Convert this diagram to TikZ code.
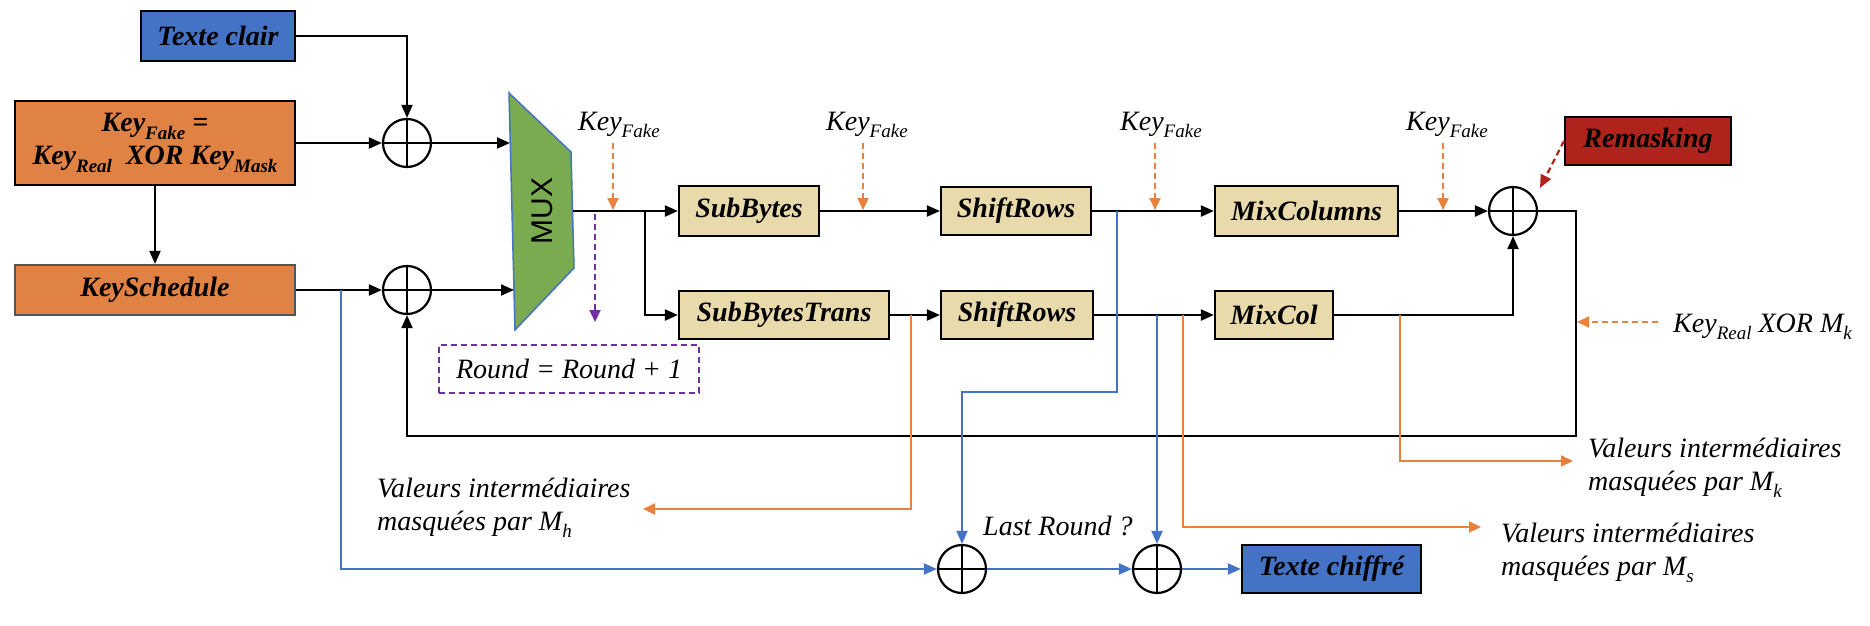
\documentclass[tikz,border=0pt]{standalone}
\usepackage{fontspec}
\setmainfont{Liberation Serif}
\newfontfamily\arialf{Liberation Sans}
\usetikzlibrary{arrows.meta}
\definecolor{boxblue}{HTML}{4472C4}
\definecolor{korange}{HTML}{DF8244}
\definecolor{tanc}{HTML}{E9DAAB}
\definecolor{muxgreen}{HTML}{7AAB50}
\definecolor{rred}{HTML}{AF231C}
\definecolor{lorange}{HTML}{E8803E}
\definecolor{lpurple}{HTML}{7030A0}
\definecolor{ksborder}{HTML}{555555}
\newcommand{\lsub}[1]{\raisebox{-0.28em}{\fontsize{19}{19}\selectfont #1}}
\begin{document}
\begin{tikzpicture}[x=1pt,y=-1pt,
  box/.style={draw, line width=2.2pt, inner sep=0pt, font=\fontsize{28}{33}\selectfont\bfseries\itshape},
  tanbox/.style={box, fill=tanc},
  xorc/.style={circle, draw, line width=2.2pt, minimum size=48pt, inner sep=0pt,
    path picture={\draw[line width=2pt] (path picture bounding box.north) -- (path picture bounding box.south)
      (path picture bounding box.west) -- (path picture bounding box.east);}},
  conn/.style={line width=2pt, -{Triangle[length=13pt,width=11pt]}},
  bconn/.style={line width=2pt, draw=boxblue, -{Triangle[length=13pt,width=11pt]}, color=boxblue},
  oconn/.style={line width=2pt, draw=lorange, -{Triangle[length=12pt,width=11pt]}, color=lorange},
  odash/.style={line width=2pt, draw=lorange, dash pattern=on 6pt off 4pt, -{Triangle[length=12pt,width=11pt]}, color=lorange},
  lab/.style={inner sep=0pt, font=\fontsize{28}{33}\selectfont\itshape},
]
\useasboundingbox (0,0) rectangle (1870,626);

% boxes
\node[box, fill=boxblue, minimum width=154pt, minimum height=50pt] (tc) at (218,36) {Texte clair};
\node[box, fill=korange, minimum width=280pt, minimum height=84pt, align=center] (kf) at (155,143)
  {Key\lsub{Fake} =\\Key\lsub{Real}\ \ XOR Key\lsub{Mask}};
\node[box, draw=ksborder, fill=korange, minimum width=280pt, minimum height=50pt] (ks) at (155,290) {KeySchedule};

\node[xorc] (x1) at (407,143) {};
\node[xorc] (x2) at (407,290) {};
\node[xorc] (x4) at (1513,211) {};
\node[xorc] (x3) at (962,569) {};
\node[xorc] (x5) at (1157,569) {};

% MUX
\draw[fill=muxgreen, draw=boxblue, line width=1.5pt] (509,93) -- (571,152) -- (574,268) -- (515,330) -- cycle;
\node[rotate=90, inner sep=0pt, font=\arialf\fontsize{30}{30}\selectfont] (mux) at (542,211) {MUX};
\coordinate (muxin1) at (510,143);
\coordinate (muxin2) at (514,290);
\coordinate (muxout) at (573,211);

\node[tanbox, minimum width=140pt, minimum height=50pt] (sb) at (749,211) {SubBytes};
\node[tanbox, minimum width=210pt, minimum height=48pt] (sbt) at (784,315) {SubBytesTrans};
\node[tanbox, minimum width=150pt, minimum height=48pt] (sr1) at (1016,211) {ShiftRows};
\node[tanbox, minimum width=152pt, minimum height=48pt] (sr2) at (1017,315) {ShiftRows};
\node[tanbox, minimum width=183pt, minimum height=50pt] (mc) at (1306.5,211) {MixColumns};
\node[tanbox, minimum width=118pt, minimum height=48pt] (mcol) at (1274,315) {MixCol};
\node[box, fill=rred, minimum width=166pt, minimum height=48pt] (rm) at (1648,141) {Remasking};
\node[box, fill=boxblue, minimum width=179pt, minimum height=48pt] (tcf) at (1331.5,569) {Texte chiffré};
\node[draw=lpurple, line width=1.8pt, dash pattern=on 6pt off 4pt, minimum width=260pt, minimum height=48pt,
  inner sep=0pt, font=\fontsize{28}{33}\selectfont\itshape] (rnd) at (569,369) {Round = Round + 1};

% labels
\node[lab, anchor=base west] (kl1) at (578,130) {Key\lsub{Fake}};
\node[lab, anchor=base west] (kl2) at (826,130) {Key\lsub{Fake}};
\node[lab, anchor=base west] (kl3) at (1120,130) {Key\lsub{Fake}};
\node[lab, anchor=base west] (kl4) at (1406,130) {Key\lsub{Fake}};
\node[lab, anchor=base west] (kr) at (1673,332) {Key\lsub{Real} XOR M\lsub{k}};
\node[lab, anchor=base west] (lr) at (983,535) {Last Round ?};
\node[lab, anchor=west, align=left] (vh) at (377,507.8) {Valeurs intermédiaires\\masquées par M\lsub{h}};
\node[lab, anchor=west, align=left] (vk) at (1588,467.8) {Valeurs intermédiaires\\masquées par M\lsub{k}};
\node[lab, anchor=west, align=left] (vs) at (1501,552.8) {Valeurs intermédiaires\\masquées par M\lsub{s}};

% black connectors
\draw[conn] (tc.east) -| (x1.north);
\draw[conn] (kf.east) -- (x1.west);
\draw[conn] (x1.east) -- (muxin1);
\draw[conn] (kf.south) -- (ks.north);
\draw[conn] (ks.east) -- (x2.west);
\draw[conn] (x2.east) -- (muxin2);
\draw[conn] (muxout) -- (sb.west);
\coordinate (br1) at (645,211);
\draw[conn] (br1) |- (sbt.west);
\draw[conn] (sb.east) -- (sr1.west);
\draw[conn] (sbt.east) -- (sr2.west);
\draw[conn] (sr1.east) -- (mc.west);
\draw[conn] (sr2.east) -- (mcol.west);
\draw[conn] (mc.east) -- (x4.west);
\draw[conn] (mcol.east) -| (x4.south);
\coordinate (fbc) at (1576,436);
\draw[conn] (x4.east) -| (fbc) -| (x2.south);

% blue connectors
\coordinate (bk) at (341,290);
\draw[bconn] (bk) |- (x3.west);
\coordinate (bs1) at (1117,211);
\coordinate (bs1b) at (1117,392);
\draw[bconn] (bs1) -- (bs1b) -| (x3.north);
\coordinate (bs2) at (1157,315);
\draw[bconn] (bs2) -- (x5.north);
\draw[bconn] (x3.east) -- (x5.west);
\draw[bconn] (x5.east) -- (tcf.west);

% orange connectors
\coordinate (oh) at (911,315); \coordinate (ohc) at (911,509); \coordinate (oht) at (643,509);
\draw[oconn] (oh) -- (ohc) -- (oht);
\coordinate (os) at (1183,315); \coordinate (osc) at (1183,527); \coordinate (ost) at (1481,527);
\draw[oconn] (os) -- (osc) -- (ost);
\coordinate (ok) at (1400,315); \coordinate (okc) at (1400,461); \coordinate (okt) at (1573,461);
\draw[oconn] (ok) -- (okc) -- (okt);

% dashed arrows
\coordinate (d1s) at (613,143); \coordinate (d1e) at (613,210);
\coordinate (d2s) at (863,143); \coordinate (d2e) at (863,210);
\coordinate (d3s) at (1155,143); \coordinate (d3e) at (1155,210);
\coordinate (d4s) at (1443,143); \coordinate (d4e) at (1443,210);
\draw[odash] (d1s) -- (d1e);
\draw[odash] (d2s) -- (d2e);
\draw[odash] (d3s) -- (d3e);
\draw[odash] (d4s) -- (d4e);
\coordinate (krs) at (1658,322); \coordinate (kre) at (1577,322);
\draw[odash] (krs) -- (kre);
\coordinate (ps) at (595,214); \coordinate (pe) at (595,322);
\draw[line width=2pt, lpurple, dash pattern=on 6pt off 4pt, -{Triangle[length=12pt,width=11pt]}] (ps) -- (pe);
\coordinate (rme) at (1540,188);
\draw[line width=2.2pt, rred, dash pattern=on 6pt off 4pt, -{Triangle[length=13pt,width=11pt]}] (rm.west) -- (rme);
\end{tikzpicture}
\end{document}
